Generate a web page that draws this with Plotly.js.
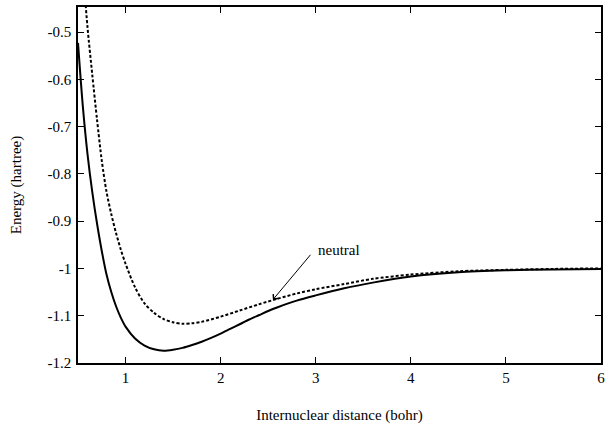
<!DOCTYPE html>
<html>
<head>
<meta charset="utf-8">
<script src="https://cdn.plot.ly/plotly-3.0.1.min.js"></script>
<style>html,body{margin:0;padding:0;background:#fff;}#chart{width:608px;height:425px;}</style>
</head>
<body>
<div id="chart"></div>
<script>
// Solid curve (exact ground state)
const solidX = [0.5, 0.55, 0.6, 0.65, 0.7, 0.75, 0.8, 0.85, 0.9, 0.95, 1.0, 1.1, 1.2, 1.3, 1.4, 1.5, 1.6, 1.7, 1.8, 1.9, 2.0, 2.1, 2.2, 2.3, 2.4, 2.5, 2.6, 2.8, 3.0, 3.3, 3.6, 4.0, 4.5, 5.0, 5.5, 6.0];
const solidY = [-0.523, -0.655, -0.758, -0.838, -0.905, -0.963, -1.013, -1.05, -1.08, -1.104, -1.123, -1.148, -1.163, -1.171, -1.174, -1.172, -1.168, -1.162, -1.155, -1.147, -1.138, -1.128, -1.118, -1.108, -1.099, -1.090, -1.082, -1.068, -1.057, -1.042, -1.030, -1.017, -1.008, -1.004, -1.002, -1.001];
// Dashed curve ("neutral")
const dashX = [0.56, 0.6, 0.65, 0.7, 0.75, 0.8, 0.85, 0.9, 0.95, 1.0, 1.1, 1.2, 1.3, 1.4, 1.5, 1.6, 1.7, 1.8, 2.0, 2.2, 2.4, 2.6, 2.8, 3.0, 3.3, 3.6, 4.0, 4.5, 5.0, 5.5, 6.0];
const dashY = [-0.39, -0.49, -0.59, -0.685, -0.772, -0.838, -0.885, -0.925, -0.96, -0.99, -1.04, -1.074, -1.094, -1.107, -1.114, -1.117, -1.116, -1.113, -1.102, -1.089, -1.076, -1.064, -1.053, -1.044, -1.033, -1.022, -1.013, -1.006, -1.003, -1.001, -1.0];
// Tick labels
const xTickVals = [1, 2, 3, 4, 5, 6];
const xTickText = ['1', '2', '3', '4', '5', '6'];
const yTickVals = [-1.2, -1.1, -1.0, -0.9, -0.8, -0.7, -0.6, -0.5];
const yTickText = ['-1.2', '-1.1', '-1', '-0.9', '-0.8', '-0.7', '-0.6', '-0.5'];
const annLabel = 'neutral';

const font = {family: '"Liberation Serif", "Times New Roman", serif', size: 15, color: '#000'};

const traces = [
  {x: solidX, y: solidY, type: 'scatter', mode: 'lines', line: {color: '#000', width: 2, shape: 'spline', smoothing: 0.8}, hoverinfo: 'skip'},
  {x: dashX, y: dashY, type: 'scatter', mode: 'lines', line: {color: '#000', width: 2, dash: '3px,2px', shape: 'spline', smoothing: 0.8}, hoverinfo: 'skip'}
];

const axisCommon = {
  showgrid: false, zeroline: false, showline: true, linecolor: '#000', linewidth: 1.8,
  mirror: 'ticks', ticks: 'inside', ticklen: 6, tickwidth: 1, tickcolor: '#000',
  tickfont: font, tickmode: 'array'
};

const layout = {
  width: 608, height: 425,
  margin: {l: 78, r: 7, t: 7, b: 62},
  paper_bgcolor: '#fff', plot_bgcolor: '#fff',
  showlegend: false,
  font: font,
  xaxis: Object.assign({}, axisCommon, {
    range: [0.5, 6], tickvals: xTickVals, ticktext: xTickText,
    title: {text: 'Internuclear distance (bohr)', font: font, standoff: 25}
  }),
  yaxis: Object.assign({}, axisCommon, {
    range: [-1.2, -0.447], tickvals: yTickVals, ticktext: yTickText,
    ticklabelstandoff: 2,
    title: {text: 'Energy (hartree)', font: font, standoff: 22}
  }),
  annotations: [
    {x: 2.55, y: -1.066, ax: 2.958, ay: -0.968, axref: 'x', ayref: 'y', xref: 'x', yref: 'y',
     text: '', showarrow: true, arrowhead: 4, arrowsize: 1.3, arrowwidth: 1, arrowcolor: '#000', standoff: 0, startstandoff: 0},
    {x: 3.0, y: -0.9612, xref: 'x', yref: 'y', text: annLabel, showarrow: false,
     xanchor: 'left', yanchor: 'middle', font: font}
  ]
};

Plotly.newPlot('chart', traces, layout, {displayModeBar: false, staticPlot: true});
</script>
</body>
</html>
